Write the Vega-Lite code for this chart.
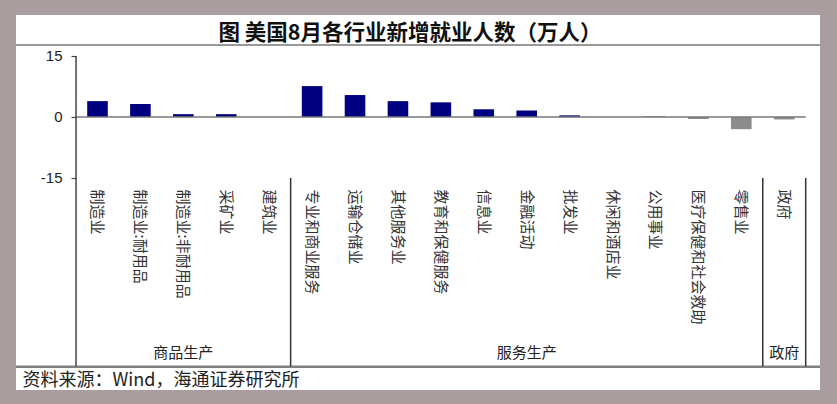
{
  "$schema": "https://vega.github.io/schema/vega-lite/v6.json",
  "width": 804,
  "height": 375,
  "autosize": {"type": "none"},
  "padding": {"left": 16, "top": 15, "right": 17, "bottom": 14},
  "background": "#a99d9f",
  "config": {"view": {"fill": "white", "stroke": null}},
  "title": {
    "text": "图  美国8月各行业新增就业人数（万人）",
    "anchor": "middle",
    "frame": "group",
    "offset": 0,
    "baseline": "middle",
    "dy": 40,
    "dx": -8,
    "font": "Noto Sans CJK SC",
    "fontSize": 21.5,
    "fontWeight": "bold",
    "color": "#111111"
  },
  "datasets": {
    "jobs": [
      {"cat": "制造业", "value": 3.9},
      {"cat": "制造业:耐用品", "value": 3.2},
      {"cat": "制造业:非耐用品", "value": 0.7},
      {"cat": "采矿业", "value": 0.7},
      {"cat": "建筑业", "value": 0},
      {"cat": "专业和商业服务", "value": 7.6},
      {"cat": "运输仓储业", "value": 5.4},
      {"cat": "其他服务业", "value": 3.9},
      {"cat": "教育和保健服务", "value": 3.6},
      {"cat": "信息业", "value": 1.9},
      {"cat": "金融活动", "value": 1.6},
      {"cat": "批发业", "value": 0.4},
      {"cat": "休闲和酒店业", "value": 0},
      {"cat": "公用事业", "value": 0.1},
      {"cat": "医疗保健和社会救助", "value": -0.5},
      {"cat": "零售业", "value": -3.0},
      {"cat": "政府", "value": -0.6}
    ],
    "groups": [
      {"group": "商品生产", "cat": "制造业:非耐用品"},
      {"group": "服务生产", "cat": "金融活动"},
      {"group": "政府", "cat": "政府"}
    ],
    "dividers": [
      {"cat": "专业和商业服务"},
      {"cat": "政府"}
    ]
  },
  "layer": [
    {
      "data": {"name": "jobs"},
      "mark": {"type": "bar", "width": {"band": 0.48}},
      "encoding": {
        "x": {
          "field": "cat",
          "type": "nominal",
          "sort": null,
          "scale": {
            "domain": ["制造业", "制造业:耐用品", "制造业:非耐用品", "采矿业", "建筑业", "专业和商业服务", "运输仓储业", "其他服务业", "教育和保健服务", "信息业", "金融活动", "批发业", "休闲和酒店业", "公用事业", "医疗保健和社会救助", "零售业", "政府"],
            "paddingInner": 0,
            "paddingOuter": 0.866,
            "align": 0.8075
          },
          "axis": {
            "orient": "bottom",
            "domain": false,
            "ticks": false,
            "grid": false,
            "labelAngle": 90,
            "labelAlign": "left",
            "labelBaseline": "middle",
            "labelPadding": -201,
            "labelOverlap": false,
            "labelBound": false,
            "labelFlush": false,
            "labelFont": "Noto Sans CJK SC",
            "labelFontSize": 15,
            "labelColor": "#333333",
            "title": "资料来源：Wind，海通证券研究所",
            "titleAnchor": "start",
            "titleAlign": "left",
            "titleBaseline": "middle",
            "titleX": 6,
            "titleY": -10,
            "titleFont": "Noto Sans CJK SC",
            "titleFontSize": 18,
            "titleFontWeight": "normal",
            "titleColor": "#222222"
          }
        },
        "y": {
          "field": "value",
          "type": "quantitative",
          "scale": {"domain": [-67.13, 25.08], "nice": false, "zero": false},
          "axis": {
            "offset": -60,
            "values": [15, 0, -15],
            "labelExpr": "'' + datum.value",
            "domain": false,
            "grid": false,
            "tickSize": 5,
            "tickColor": "#444444",
            "tickWidth": 1.2,
            "labelPadding": 9,
            "labelFont": "Liberation Sans",
            "labelFontSize": 15,
            "labelColor": "#222222",
            "title": null
          }
        },
        "color": {
          "condition": {"test": "datum.value < 0", "value": "#8c8c8c"},
          "value": "#000080"
        }
      }
    },
    {
      "data": {"values": [{}]},
      "mark": {"type": "rule", "color": "#999999", "strokeWidth": 2},
      "encoding": {"y": {"datum": 17.7}}
    },
    {
      "data": {"values": [{}]},
      "mark": {"type": "rule", "color": "#808080", "strokeWidth": 2.5},
      "encoding": {"y": {"datum": -61.4}}
    },
    {
      "data": {"values": [{}]},
      "mark": {"type": "rule", "color": "#777777", "strokeWidth": 1.5},
      "encoding": {
        "x": {"datum": "制造业", "bandPosition": 0},
        "x2": {"datum": "政府", "bandPosition": 1},
        "y": {"datum": 0}
      }
    },
    {
      "data": {"values": [{}]},
      "mark": {"type": "rule", "color": "#444444", "strokeWidth": 1.5},
      "encoding": {
        "x": {"datum": "制造业", "bandPosition": 0},
        "y": {"datum": 15},
        "y2": {"datum": -61.3}
      }
    },
    {
      "data": {"name": "dividers"},
      "mark": {"type": "rule", "color": "#333333", "strokeWidth": 1.5},
      "encoding": {
        "x": {"field": "cat", "type": "nominal", "bandPosition": 0},
        "y": {"datum": -15},
        "y2": {"datum": -61.3}
      }
    },
    {
      "data": {"values": [{}]},
      "mark": {"type": "rule", "color": "#333333", "strokeWidth": 1.5},
      "encoding": {
        "x": {"datum": "政府", "bandPosition": 1},
        "y": {"datum": -15},
        "y2": {"datum": -61.3}
      }
    },
    {
      "data": {"name": "groups"},
      "mark": {"type": "text", "font": "Noto Sans CJK SC", "fontSize": 15, "color": "#222222", "baseline": "middle", "align": "center"},
      "encoding": {
        "x": {"field": "cat", "type": "nominal"},
        "y": {"datum": -58},
        "text": {"field": "group"}
      }
    }
  ]
}
